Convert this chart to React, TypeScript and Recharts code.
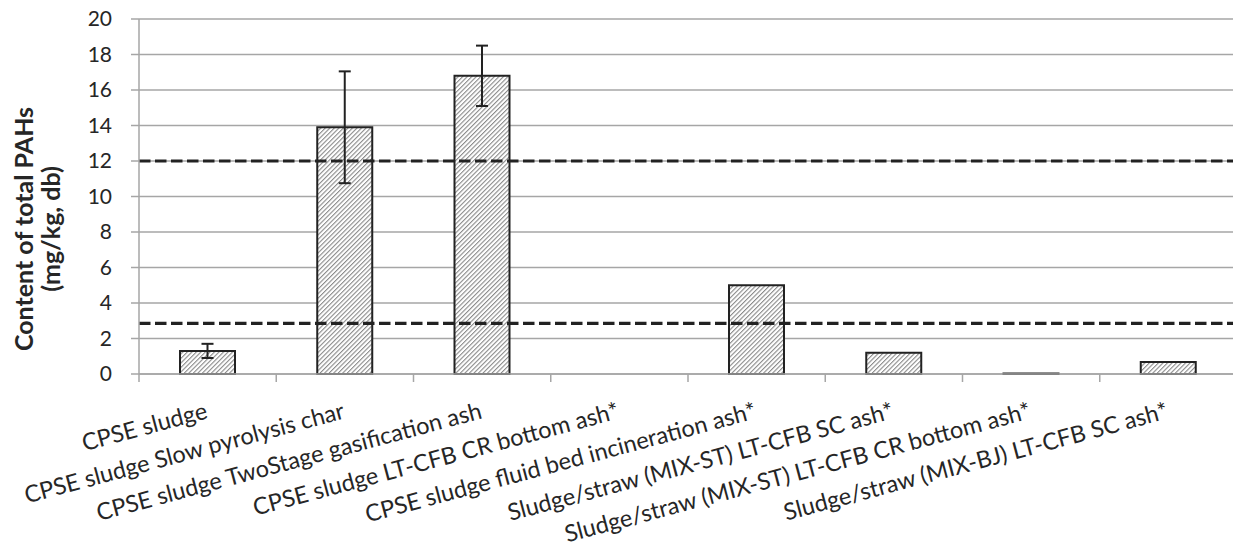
import {
  Bar,
  BarChart,
  CartesianGrid,
  ErrorBar,
  ReferenceLine,
  XAxis,
  YAxis,
} from "recharts";

const CATEGORIES = [
  "CPSE sludge",
  "CPSE sludge Slow pyrolysis char",
  "CPSE sludge TwoStage gasification ash",
  "CPSE sludge LT-CFB CR bottom ash*",
  "CPSE sludge fluid bed incineration ash*",
  "Sludge/straw (MIX-ST) LT-CFB SC ash*",
  "Sludge/straw (MIX-ST) LT-CFB CR bottom ash*",
  "Sludge/straw (MIX-BJ) LT-CFB SC ash*",
];
const PAH_CONTENT = [1.3, 13.9, 16.8, 0, 5.0, 1.2, 0.03, 0.67];
const PAH_ERROR: (number | null)[] = [0.4, 3.15, 1.7, null, null, null, null, null];
const LIMITS = [12, 2.85];
const Y_TICKS = [0, 2, 4, 6, 8, 10, 12, 14, 16, 18, 20];

const WIDTH = 1241;
const HEIGHT = 555;
const PLOT_LEFT = 139;
const PLOT_RIGHT = 4;
const FONT = "Lato, 'Open Sans', sans-serif";
const GRID = "#a6a6a6";
const INK = "#222222";

const data = CATEGORIES.map((name, i) => ({
  name,
  value: PAH_CONTENT[i],
  err: PAH_ERROR[i],
}));

const step = (WIDTH - PLOT_LEFT - PLOT_RIGHT) / CATEGORIES.length;

const CategoryTick = (props: any) => {
  const { x, y, payload, index } = props;
  const left = x - step / 2;
  const tx = x + 1;
  const ty = y + 44;
  return (
    <g>
      <line x1={left} y1={y} x2={left} y2={y + 8} stroke={GRID} strokeWidth={1.5} />
      {index === CATEGORIES.length - 1 && (
        <line x1={left + step} y1={y} x2={left + step} y2={y + 8} stroke={GRID} strokeWidth={1.5} />
      )}
      <text
        x={tx}
        y={ty}
        textAnchor="end"
        transform={`rotate(-15, ${tx}, ${ty})`}
        fontFamily={FONT}
        fontSize={23.5}
        fill="#262626"
      >
        {payload.value}
      </text>
    </g>
  );
};

const AxisTitle = (props: any) => {
  const x = props.viewBox?.x ?? 0;
  const cy = 229;
  return (
    <g fontFamily={FONT} fontSize={25} fontWeight="bold" fill="#262626" textAnchor="middle">
      <text x={x + 33} y={cy} transform={`rotate(-90, ${x + 33}, ${cy})`}>
        Content of total PAHs
      </text>
      <text x={x + 60} y={cy} transform={`rotate(-90, ${x + 60}, ${cy})`}>
        (mg/kg, db)
      </text>
    </g>
  );
};

export default function App() {
  return (
    <div style={{ margin: -8, width: WIDTH, height: HEIGHT, background: "#fff" }}>
      <BarChart
        width={WIDTH}
        height={HEIGHT}
        data={data}
        margin={{ top: 19, right: PLOT_RIGHT, left: 0, bottom: 0 }}
      >
        <defs>
          <pattern
            id="hatch"
            patternUnits="userSpaceOnUse"
            width={3.2}
            height={3.2}
            patternTransform="rotate(45)"
          >
            <rect width={3.2} height={3.2} fill="#ffffff" />
            <rect x={0} y={0} width={1.1} height={3.2} fill="#8a8a8a" />
          </pattern>
        </defs>
        <CartesianGrid vertical={false} stroke={GRID} strokeWidth={1.5} />
        <XAxis
          dataKey="name"
          interval={0}
          height={181}
          tickSize={0}
          tickMargin={0}
          tickLine={false}
          axisLine={{ stroke: GRID, strokeWidth: 1.5 }}
          tick={<CategoryTick />}
        />
        <YAxis
          width={PLOT_LEFT}
          domain={[0, 20]}
          ticks={Y_TICKS}
          interval={0}
          tickSize={8}
          tickMargin={19}
          axisLine={{ stroke: GRID, strokeWidth: 1.5 }}
          tickLine={{ stroke: GRID, strokeWidth: 1.5 }}
          tick={{ fontFamily: FONT, fontSize: 21, fill: "#262626" }}
          label={<AxisTitle />}
        />
        <Bar
          dataKey="value"
          barSize={55}
          fill="url(#hatch)"
          stroke={INK}
          strokeWidth={2}
          isAnimationActive={false}
        >
          <ErrorBar dataKey="err" width={6} stroke={INK} strokeWidth={2} isAnimationActive={false} />
        </Bar>
        {LIMITS.map((v) => (
          <ReferenceLine
            key={v}
            y={v}
            stroke={INK}
            strokeWidth={3.2}
            strokeDasharray="11.5 4.5"
          />
        ))}
      </BarChart>
    </div>
  );
}
